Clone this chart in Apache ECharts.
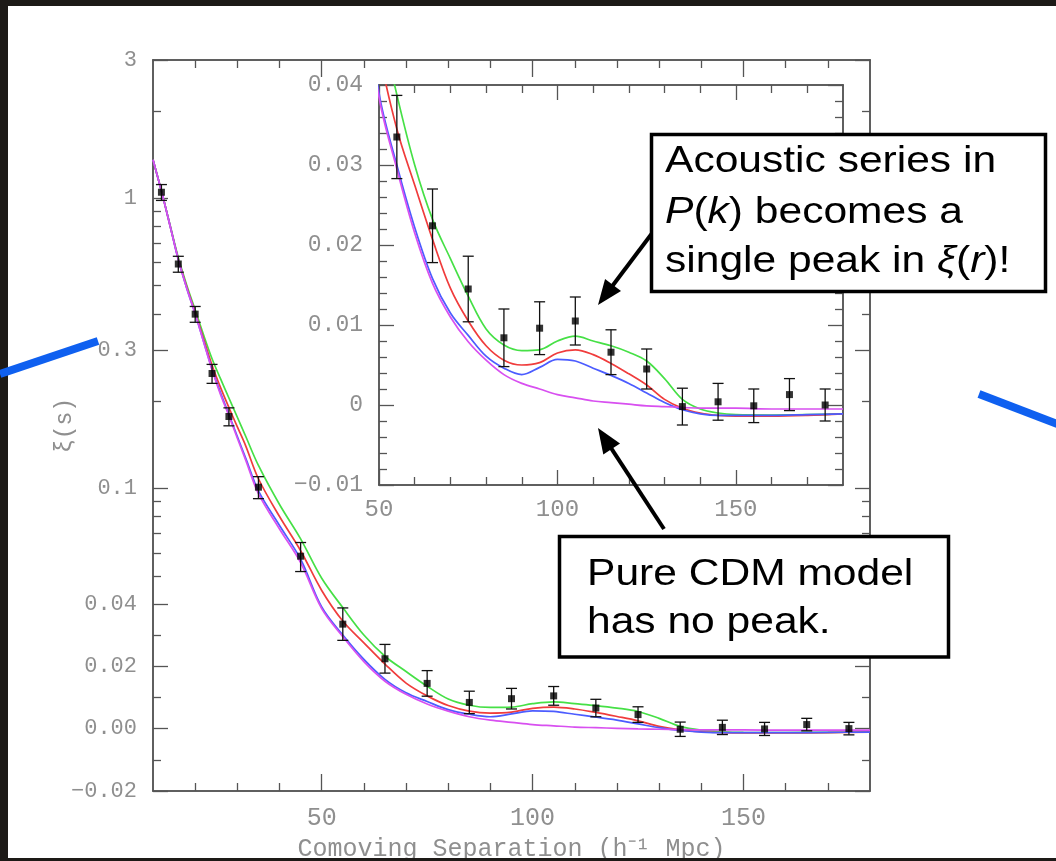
<!DOCTYPE html>
<html><head><meta charset="utf-8">
<script src="https://cdn.jsdelivr.net/npm/echarts@6/dist/echarts.min.js"></script>
<style>html,body{margin:0;padding:0;background:#fff}#c{width:1056px;height:861px}</style>
</head><body><div id="c"></div>
<script>
// ---------- data ----------
const modelX = [10,12,14,16,18,20,22,24,26,28,30,32,35,40,45,50,55,60,65,70,75,80,85,90,95,100,105,110,115,120,125,130,135,140,145,150,160,170,180];
const modelGreen = [1.36,1.06,0.815,0.625,0.502,0.413,0.338,0.28,0.239,0.205,0.176,0.151,0.12,0.088,0.067,0.049,0.0388,0.030,0.0232,0.0183,0.0136,0.0095,0.0075,0.0068,0.0069,0.0080,0.0086,0.0080,0.0074,0.0066,0.0055,0.0033,0.0007,-0.0005,-0.0010,-0.0012,-0.00125,-0.0012,-0.0011];
const modelRed = [1.36,1.06,0.81,0.618,0.495,0.405,0.328,0.266,0.223,0.190,0.163,0.140,0.108,0.080,0.061,0.0445,0.0345,0.0275,0.0207,0.0146,0.0105,0.0074,0.0056,0.0050,0.0053,0.0065,0.0069,0.0063,0.0052,0.0039,0.0025,0.0007,-0.0004,-0.0010,-0.0013,-0.0014,-0.0014,-0.0013,-0.0011];
const modelBlue = [1.36,1.06,0.81,0.615,0.49,0.40,0.321,0.258,0.214,0.180,0.151,0.127,0.098,0.0745,0.057,0.039,0.030,0.0222,0.0158,0.0115,0.0087,0.0061,0.0046,0.0038,0.0047,0.0057,0.0055,0.0046,0.0037,0.0027,0.0015,0.0003,-0.0006,-0.0011,-0.0013,-0.0013,-0.0013,-0.0012,-0.0011];
const modelMagenta = [1.36,1.06,0.81,0.615,0.49,0.40,0.32,0.256,0.211,0.178,0.149,0.125,0.096,0.0725,0.0555,0.0385,0.0295,0.0215,0.0152,0.0110,0.0079,0.0056,0.0038,0.0027,0.0020,0.0013,0.0009,0.0005,0.0003,0.0001,-0.0001,-0.0002,-0.0003,-0.0004,-0.0004,-0.0004,-0.0005,-0.0005,-0.0005];

const dataX = [12,16,20,24,28,35,45,55,65,75,85,95,105,115,125,135,145,155,165,175];
const dataXi = [1.05,0.594,0.399,0.249,0.177,0.101,0.0584,0.0335,0.0224,0.0145,0.0084,0.0096,0.0105,0.0066,0.0045,-0.0002,0.0004,-0.0001,0.0013,0.0000];
const dataErr = [0.066,0.0375,0.025,0.0187,0.0126,0.0088,0.0067,0.0052,0.0046,0.0041,0.0036,0.0033,0.0030,0.0028,0.0025,0.0023,0.0023,0.0021,0.0020,0.0020];

const mainYMajor = [3,1,0.3,0.1,0.04,0.02,0,-0.02];
const mainYMajorLabels = ['3','1','0.3','0.1','0.04','0.02','0.00','\u22120.02'];
const mainYMinor = [2,0.9,0.8,0.7,0.6,0.5,0.4,0.2,0.09,0.08,0.07,0.06,0.05,0.03,0.01,-0.01];
const mainXMajor = [50,100,150];
const mainXMinor = [20,30,40,60,70,80,90,110,120,130,140,160,170];
const insetXMajor = [50,100,150];
const insetXMinor = [60,70,80,90,110,120,130,140,160,170];
const insetYMajor = [-0.01,0,0.01,0.02,0.03,0.04];
const insetYMajorLabels = ['\u22120.01','0','0.01','0.02','0.03','0.04'];
const insetYMinor = [-0.008,-0.006,-0.004,-0.002,0.002,0.004,0.006,0.008,0.012,0.014,0.016,0.018,0.022,0.024,0.026,0.028,0.032,0.034,0.036,0.038];

// ---------- scale transform for the main panel (log above 0.04, linear below) ----------
const K = 4.65;
const T = v => v >= 0.04 ? 2 + K * Math.log10(v / 0.04) : v / 0.02;

const colors = {green:'#46e046', red:'#f03c3c', blue:'#4c5cff', magenta:'#d850f0'};
const AX = '#555';
const LBL = '#8f8f8f';
const MONO = 'Liberation Mono';

function axis(o) {
  return {
    type: 'value', gridIndex: o.grid, position: o.pos, min: o.min, max: o.max,
    axisLine: {show: true, onZero: false, lineStyle: {color: AX, width: 1.5}},
    axisTick: o.ticks ? {show: true, inside: true, length: o.len, customValues: o.ticks, lineStyle: {color: AX, width: 1.3}} : {show: false},
    axisLabel: o.labels ? Object.assign({show: true, customValues: o.labels, color: LBL, fontFamily: MONO, fontSize: o.fs, margin: o.margin}, o.fmt ? {formatter: o.fmt} : {}) : {show: false},
    splitLine: {show: false},
    name: o.name || '', nameLocation: 'middle', nameGap: o.nameGap || 0,
    nameMoveOverlap: false,
    nameRotate: o.nameRotate,
    nameTextStyle: {color: LBL, fontFamily: MONO, fontSize: o.nameFs || 20}
  };
}

const yMin = T(-0.02), yMax = T(3);
const mainYFmt = v => {
  let best = 0, bd = 1e9;
  mainYMajor.forEach((m, i) => { const d = Math.abs(T(m) - v); if (d < bd) { bd = d; best = i; } });
  return mainYMajorLabels[best];
};
const insetYFmt = v => {
  let best = 0, bd = 1e9;
  insetYMajor.forEach((m, i) => { const d = Math.abs(m - v); if (d < bd) { bd = d; best = i; } });
  return insetYMajorLabels[best];
};

const xAxes = [
  axis({grid:0,pos:'bottom',min:10,max:180,ticks:mainXMajor,len:17,labels:mainXMajor,fs:25,margin:15,name:'Comoving Separation (h\u207B\u00B9 Mpc)',nameGap:46,nameFs:25}),
  axis({grid:0,pos:'bottom',min:10,max:180,ticks:mainXMinor,len:8}),
  axis({grid:0,pos:'top',min:10,max:180,ticks:mainXMajor,len:17}),
  axis({grid:0,pos:'top',min:10,max:180,ticks:mainXMinor,len:8}),
  axis({grid:1,pos:'bottom',min:50,max:180,ticks:insetXMajor,len:15,labels:insetXMajor,fs:24,margin:13}),
  axis({grid:1,pos:'bottom',min:50,max:180,ticks:insetXMinor,len:8}),
  axis({grid:1,pos:'top',min:50,max:180,ticks:insetXMajor,len:15}),
  axis({grid:1,pos:'top',min:50,max:180,ticks:insetXMinor,len:8})
];
const yAxes = [
  axis({grid:0,pos:'left',min:yMin,max:yMax,ticks:mainYMajor.map(T),len:15,labels:mainYMajor.map(T),fs:22,margin:16,fmt:mainYFmt,name:'\u03BE(s)',nameGap:77,nameRotate:90,nameFs:23}),
  axis({grid:0,pos:'left',min:yMin,max:yMax,ticks:mainYMinor.map(T),len:8}),
  axis({grid:0,pos:'right',min:yMin,max:yMax,ticks:mainYMajor.map(T),len:15}),
  axis({grid:0,pos:'right',min:yMin,max:yMax,ticks:mainYMinor.map(T),len:8}),
  axis({grid:1,pos:'left',min:-0.01,max:0.04,ticks:insetYMajor,len:15,labels:insetYMajor,fs:23,margin:16,fmt:insetYFmt}),
  axis({grid:1,pos:'left',min:-0.01,max:0.04,ticks:insetYMinor,len:8}),
  axis({grid:1,pos:'right',min:-0.01,max:0.04,ticks:insetYMajor,len:15}),
  axis({grid:1,pos:'right',min:-0.01,max:0.04,ticks:insetYMinor,len:8})
];

function modelSeries(vals, color, xi, yi, tf, name) {
  return {
    type: 'line', name, xAxisIndex: xi, yAxisIndex: yi, showSymbol: false, smooth: 0.35,
    clip: true, z: 3,
    lineStyle: {color, width: 1.7}, itemStyle: {color},
    data: modelX.map((x, i) => [x, tf(vals[i])]),
    silent: true, animation: false
  };
}
function errSeries(xi, yi, tf, filt) {
  const d = [];
  dataX.forEach((x, i) => { if (filt(x)) d.push([x, tf(dataXi[i] - dataErr[i]), tf(dataXi[i] + dataErr[i])]); });
  return {
    type: 'custom', xAxisIndex: xi, yAxisIndex: yi, clip: true, z: 4, animation: false, silent: true,
    data: d,
    renderItem: (params, api) => {
      const x = api.value(0);
      const p1 = api.coord([x, api.value(1)]), p2 = api.coord([x, api.value(2)]);
      const w = 5.5, st = {stroke: '#111', lineWidth: 1.3};
      return {type: 'group', children: [
        {type: 'line', shape: {x1: p1[0], y1: p1[1], x2: p2[0], y2: p2[1]}, style: st},
        {type: 'line', shape: {x1: p1[0]-w, y1: p1[1], x2: p1[0]+w, y2: p1[1]}, style: st},
        {type: 'line', shape: {x1: p2[0]-w, y1: p2[1], x2: p2[0]+w, y2: p2[1]}, style: st}
      ]};
    }
  };
}
function pointSeries(xi, yi, tf, filt) {
  const d = [];
  dataX.forEach((x, i) => { if (filt(x)) d.push([x, tf(dataXi[i])]); });
  return {type: 'scatter', xAxisIndex: xi, yAxisIndex: yi, symbol: 'rect', symbolSize: 7, z: 5, clip: true,
    itemStyle: {color: '#000'}, data: d, animation: false, silent: true};
}

const id = v => v;
const series = [
  modelSeries(modelGreen, colors.green, 0, 0, T, 'g'),
  modelSeries(modelRed, colors.red, 0, 0, T, 'r'),
  modelSeries(modelBlue, colors.blue, 0, 0, T, 'b'),
  modelSeries(modelMagenta, colors.magenta, 0, 0, T, 'm'),
  errSeries(0, 0, T, x => true),
  pointSeries(0, 0, T, x => true),
  modelSeries(modelGreen, colors.green, 4, 4, id, 'g2'),
  modelSeries(modelRed, colors.red, 4, 4, id, 'r2'),
  modelSeries(modelBlue, colors.blue, 4, 4, id, 'b2'),
  modelSeries(modelMagenta, colors.magenta, 4, 4, id, 'm2'),
  errSeries(4, 4, id, x => x >= 50),
  pointSeries(4, 4, id, x => x >= 50)
];

// ---------- annotations ----------
function arrow(x1, y1, tx, ty) {
  const dx = tx - x1, dy = ty - y1, L = Math.hypot(dx, dy);
  const ux = dx / L, uy = dy / L, px = -uy, py = ux;
  const hl = 25, hw = 10;
  const bx = tx - ux * hl, by = ty - uy * hl;
  return [
    {type: 'line', shape: {x1, y1, x2: bx + ux * 4, y2: by + uy * 4}, style: {stroke: '#000', lineWidth: 4}, z: 100},
    {type: 'polygon', shape: {points: [[tx, ty], [bx + px * hw, by + py * hw], [bx - px * hw, by - py * hw]]}, style: {fill: '#000'}, z: 100}
  ];
}
const SANS = 'Liberation Sans';
const richI = {i: {fontStyle: 'italic', fontSize: 37, fontFamily: SANS, fill: '#000'}};
function boxText(x, y, text) {
  return {type: 'text', x, y, scaleX: 1.15, z: 102,
    style: {text, fill: '#000', fontSize: 37, fontFamily: SANS, align: 'left', verticalAlign: 'middle', rich: richI}};
}
const dark = '#1d1a17';
const graphics = [
  {type: 'rect', shape: {x: 651.5, y: 134.5, width: 394, height: 157}, style: {fill: '#fff', stroke: '#000', lineWidth: 3.5}, z: 101},
  boxText(665, 162, 'Acoustic series in'),
  boxText(665, 213, '{i|P}({i|k}) becomes a'),
  boxText(665, 262, 'single peak in {i|\u03BE}({i|r})!'),
  {type: 'rect', shape: {x: 559.5, y: 536.5, width: 389, height: 120.5}, style: {fill: '#fff', stroke: '#000', lineWidth: 3.5}, z: 101},
  boxText(587, 575, 'Pure CDM model'),
  boxText(587, 623, 'has no peak.'),
  ...arrow(653, 232, 598, 305),
  ...arrow(664, 529, 598, 428),
  {type: 'rect', shape: {x: 0, y: 0, width: 1056, height: 6}, style: {fill: dark}, z: 110},
  {type: 'rect', shape: {x: 0, y: 0, width: 8, height: 861}, style: {fill: dark}, z: 110},
  {type: 'rect', shape: {x: 0, y: 858, width: 1056, height: 3}, style: {fill: dark}, z: 110},
  {type: 'line', shape: {x1: 0, y1: 374, x2: 98, y2: 341}, style: {stroke: '#0f60f0', lineWidth: 8}, z: 111},
  {type: 'line', shape: {x1: 979, y1: 394, x2: 1060, y2: 425}, style: {stroke: '#0f60f0', lineWidth: 8}, z: 111}
];

const chart = echarts.init(document.getElementById('c'), null, {renderer: 'canvas'});
chart.setOption({
  backgroundColor: '#fff',
  animation: false,
  grid: [
    {left: 153, top: 60, width: 717, height: 731, show: false, outerBoundsMode: 'none', containLabel: false},
    {left: 379, top: 85, width: 464, height: 400, show: true, backgroundColor: '#fff', borderWidth: 0, outerBoundsMode: 'none', containLabel: false}
  ],
  xAxis: xAxes,
  yAxis: yAxes,
  series,
  graphic: graphics
});
</script></body></html>
